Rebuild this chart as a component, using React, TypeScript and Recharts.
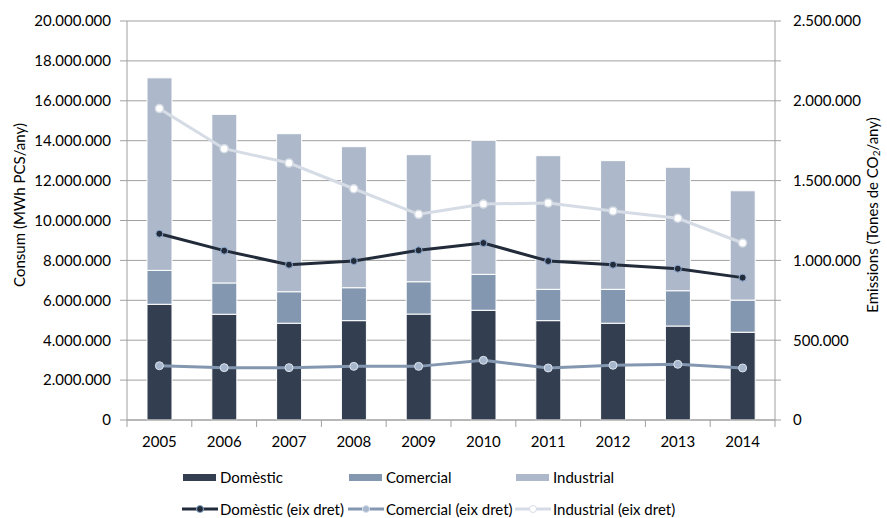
import { ComposedChart, Bar, Line, XAxis, YAxis, CartesianGrid, Legend } from 'recharts';

const years = ['2005', '2006', '2007', '2008', '2009', '2010', '2011', '2012', '2013', '2014'];

// consum, MWh PCS/any (eix esquerre)
const domestic = [5800000, 5300000, 4850000, 4980000, 5310000, 5500000, 4980000, 4850000, 4710000, 4400000];
const commercial = [1700000, 1570000, 1580000, 1650000, 1620000, 1800000, 1570000, 1700000, 1770000, 1610000];
const industrial = [9650000, 8450000, 7920000, 7070000, 6370000, 6720000, 6700000, 6450000, 6190000, 5480000];

// emissions, tones CO2/any (eix dret)
const domesticEm = [1167000, 1061000, 973000, 996000, 1063000, 1109000, 996000, 973000, 948000, 892000];
const commercialEm = [340000, 328000, 328000, 336000, 336000, 374000, 326000, 343000, 349000, 326000];
const industrialEm = [1951000, 1700000, 1610000, 1449000, 1289000, 1353000, 1360000, 1310000, 1264000, 1109000];

const leftTicks = [0, 2000000, 4000000, 6000000, 8000000, 10000000, 12000000, 14000000, 16000000, 18000000, 20000000];
const rightTicks = [0, 250000, 500000, 750000, 1000000, 1250000, 1500000, 1750000, 2000000, 2250000, 2500000];

const data = years.map((year, i) => ({
  year,
  dom: domestic[i],
  com: commercial[i],
  ind: industrial[i],
  domEm: domesticEm[i],
  comEm: commercialEm[i],
  indEm: industrialEm[i],
}));

const FONT = 'Lato, "Open Sans", sans-serif';
const FS = 15;
const AXIS = '#a0a0a0';
const C_DOM = '#333f50';
const C_COM = '#8497b0';
const C_IND = '#adb9ca';
const C_DOM_LINE = '#222b3a';
const C_IND_LINE = '#d6dce5';

const fmt = (v: number) => String(v).replace(/\B(?=(\d{3})+(?!\d))/g, '.');

function YearTick(props: any) {
  const { x, y, payload, index, visibleTicksCount } = props;
  const half = payload.offset || 0;
  const top = y - 17;
  return (
    <g>
      <line x1={x - half} x2={x - half} y1={top} y2={top + 7} stroke={AXIS} />
      {index === visibleTicksCount - 1 && (
        <line x1={x + half} x2={x + half} y1={top} y2={top + 7} stroke={AXIS} />
      )}
      <text x={x} y={y + 10} textAnchor="middle" fontFamily={FONT} fontSize={FS} fill="#000">
        {payload.value}
      </text>
    </g>
  );
}

function LegendBox() {
  const cols = [183, 349, 516];
  const bars = [
    { name: 'Domèstic', color: C_DOM },
    { name: 'Comercial', color: C_COM },
    { name: 'Industrial', color: C_IND },
  ];
  const lines = [
    { name: 'Domèstic (eix dret)', color: C_DOM_LINE, dot: C_DOM_LINE, ring: '#8ea9d0' },
    { name: 'Comercial (eix dret)', color: C_COM, dot: '#a6b6cc', ring: '#dde4ee' },
    { name: 'Industrial (eix dret)', color: C_IND_LINE, dot: '#ffffff', ring: C_IND_LINE },
  ];
  const text = { position: 'absolute' as const, fontFamily: FONT, fontSize: FS, color: '#000', lineHeight: '16px', whiteSpace: 'nowrap' as const };
  return (
    <div style={{ position: 'relative', width: 887, height: 68 }}>
      {bars.map((b, i) => (
        <div key={b.name}>
          <div style={{ position: 'absolute', left: cols[i], top: 24, width: 33, height: 7, background: b.color }} />
          <div style={{ ...text, left: cols[i] + 37, top: 19 }}>{b.name}</div>
        </div>
      ))}
      {lines.map((l, i) => (
        <div key={l.name}>
          <svg style={{ position: 'absolute', left: cols[i] - 1, top: 52 }} width={36} height={14}>
            <line x1={0} x2={36} y1={7} y2={7} stroke={l.color} strokeWidth={3} />
            <circle cx={18} cy={7} r={3.5} fill={l.dot} stroke={l.ring} strokeWidth={1} />
          </svg>
          <div style={{ ...text, left: cols[i] + 37, top: 51 }}>{l.name}</div>
        </div>
      ))}
    </div>
  );
}

export default function App() {
  return (
    <div style={{ position: 'absolute', left: 0, top: 0, background: '#fff' }}>
      <ComposedChart width={887} height={518} data={data} margin={{ top: 21, right: 0, bottom: 0, left: 0 }}>
        <CartesianGrid xAxisId="cat" yAxisId="left" vertical={false} stroke={AXIS} strokeWidth={1} />
        <XAxis
          xAxisId="cat"
          dataKey="year"
          height={30}
          tickLine={false}
          tickSize={8}
          tickMargin={9}
          axisLine={{ stroke: AXIS }}
          tick={<YearTick />}
          interval={0}
        />
        <YAxis
          yAxisId="left"
          width={127}
          domain={[0, 20000000]}
          ticks={leftTicks}
          tickFormatter={fmt}
          tickSize={7}
          tickMargin={9}
          axisLine={{ stroke: AXIS }}
          tickLine={{ stroke: AXIS }}
          tick={{ fill: '#000', fontSize: FS, fontFamily: FONT }}
          label={{
            content: () => (
              <text
                x={19}
                y={205}
                transform="rotate(-90 19 205)"
                textAnchor="middle"
                dominantBaseline="central"
                fontFamily={FONT}
                fontSize={FS}
                fill="#000"
              >
                Consum (MWh PCS/any)
              </text>
            ),
          }}
        />
        <YAxis
          yAxisId="right"
          orientation="right"
          width={112}
          domain={[0, 2500000]}
          ticks={rightTicks}
          tickFormatter={(v: number) => (v % 500000 === 0 ? fmt(v) : '')}
          tickSize={6}
          tickMargin={12}
          axisLine={{ stroke: AXIS }}
          tickLine={{ stroke: AXIS }}
          tick={{ fill: '#000', fontSize: FS, fontFamily: FONT }}
          label={{
            content: () => (
              <text
                x={872}
                y={215}
                transform="rotate(-90 872 215)"
                textAnchor="middle"
                dominantBaseline="central"
                fontFamily={FONT}
                fontSize={FS}
                fill="#000"
              >
                Emissions (Tones de CO
                <tspan fontSize={10} dy={4}>2</tspan>
                <tspan dy={-4}>/any)</tspan>
              </text>
            ),
          }}
        />
        <Legend verticalAlign="bottom" content={() => <LegendBox />} />
        <Bar xAxisId="cat" yAxisId="left" dataKey="dom" name="Domèstic" stackId="a" barSize={25} fill={C_DOM} stroke="#fff" strokeWidth={1} isAnimationActive={false} />
        <Bar xAxisId="cat" yAxisId="left" dataKey="com" name="Comercial" stackId="a" barSize={25} fill={C_COM} stroke="#fff" strokeWidth={1} isAnimationActive={false} />
        <Bar xAxisId="cat" yAxisId="left" dataKey="ind" name="Industrial" stackId="a" barSize={25} fill={C_IND} stroke="#fff" strokeWidth={1} isAnimationActive={false} />
        <Line xAxisId="cat" yAxisId="right" dataKey="comEm" name="Comercial (eix dret)" stroke={C_COM} strokeWidth={3} dot={{ r: 4, fill: '#a6b6cc', stroke: '#dde4ee', strokeWidth: 1 }} isAnimationActive={false} />
        <Line xAxisId="cat" yAxisId="right" dataKey="domEm" name="Domèstic (eix dret)" stroke={C_DOM_LINE} strokeWidth={3} dot={{ r: 3.5, fill: C_DOM_LINE, stroke: '#8ea9d0', strokeWidth: 1 }} isAnimationActive={false} />
        <Line xAxisId="cat" yAxisId="right" dataKey="indEm" name="Industrial (eix dret)" stroke={C_IND_LINE} strokeWidth={3} dot={{ r: 4, fill: '#fff', stroke: C_IND_LINE, strokeWidth: 1.5 }} isAnimationActive={false} />
      </ComposedChart>
    </div>
  );
}
